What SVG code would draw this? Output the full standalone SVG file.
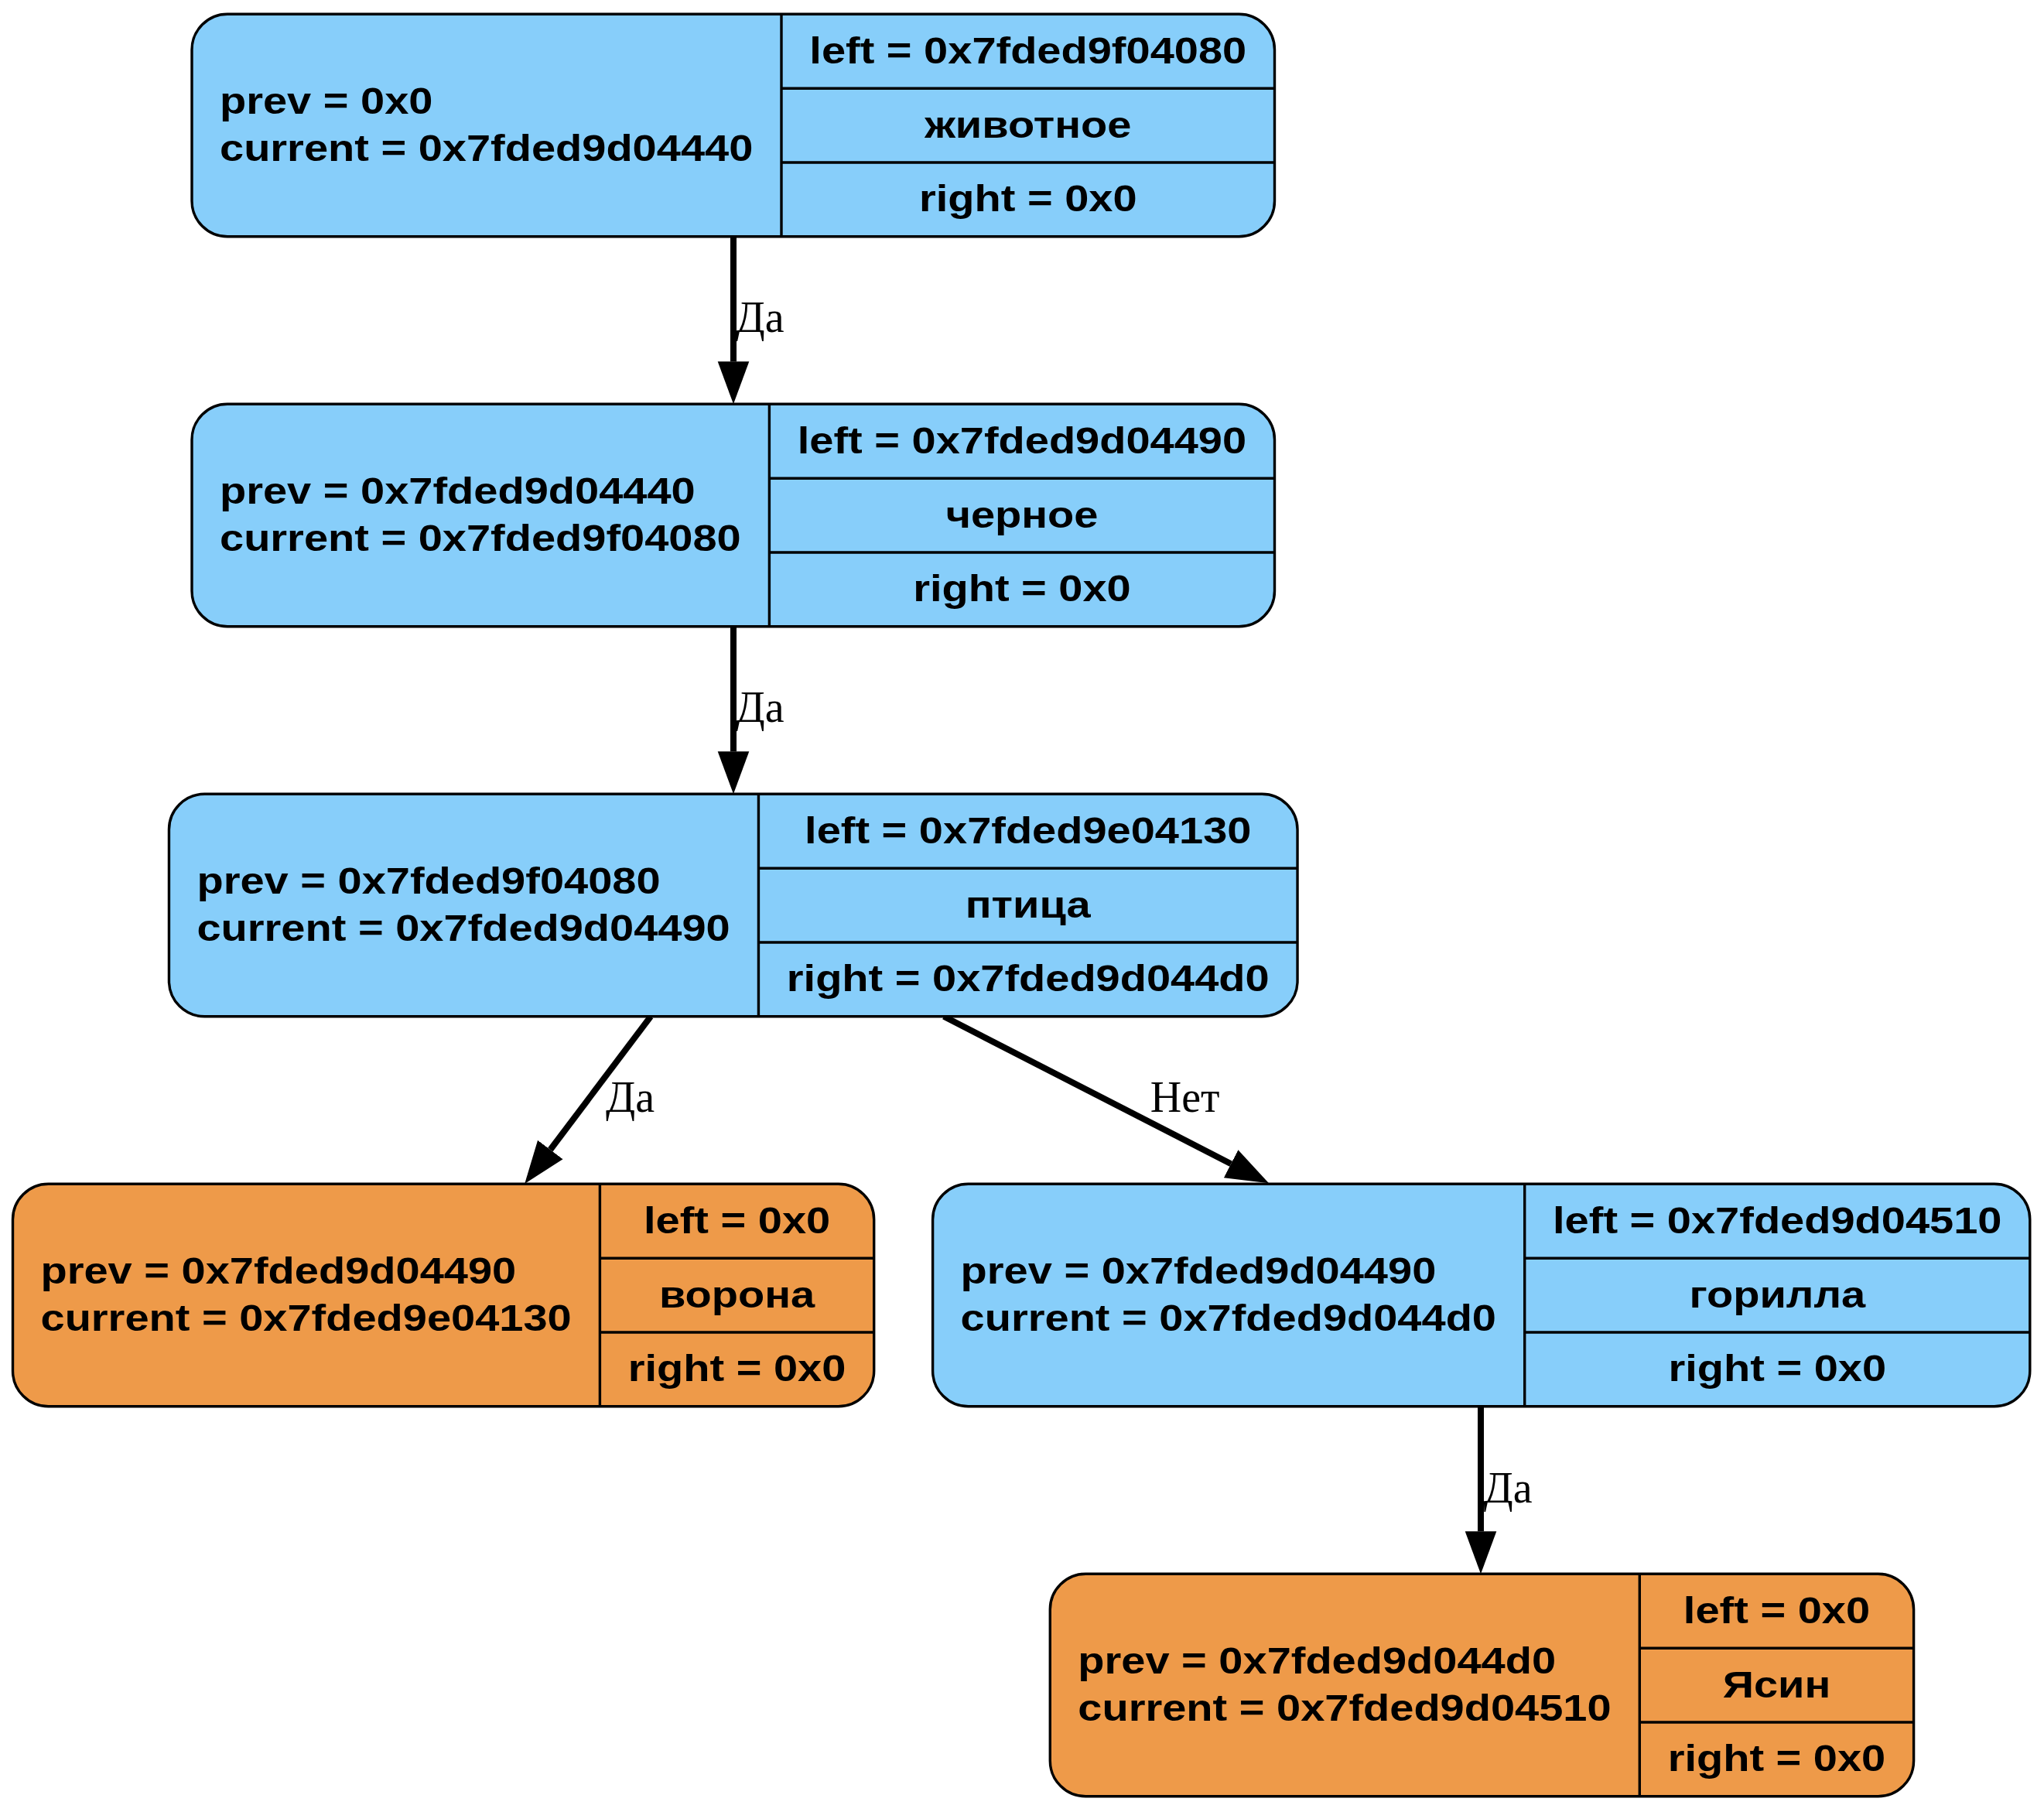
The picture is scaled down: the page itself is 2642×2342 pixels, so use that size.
<svg xmlns="http://www.w3.org/2000/svg" width="2642" height="2342" viewBox="0 0 2642 2342">
<style>
.bg{fill:#ffffff}
.box{stroke:#000;stroke-width:3.4}
.blue{fill:#87CEFA}
.orange{fill:#EE9A49}
.div{stroke:#000;stroke-width:3.4;fill:none}
.t{font-family:"Liberation Sans",Arial,Helvetica,sans-serif;font-weight:bold;font-size:48px;fill:#000}
.c{text-anchor:middle}
.edge{stroke:#000;stroke-width:8;fill:none}
.lbl{font-family:"Liberation Serif","Times New Roman",serif;font-size:56px;fill:#000;text-anchor:middle}
</style>
<defs>
<marker id="arr" markerUnits="userSpaceOnUse" viewBox="0 -21 56 42" markerWidth="56" markerHeight="42" refX="0" refY="0" orient="auto">
<path d="M0,-20.3 L55,0 L0,20.3 Z" fill="#000"/>
</marker>
</defs>
<rect class="bg" x="0" y="0" width="2642" height="2342"/>

<g id="connectors">
<path class="edge" d="M948,305.8 L948,467.3" marker-end="url(#arr)"/>
<text class="lbl" x="982" y="429.3">Да</text>
<path class="edge" d="M948,809.8 L948,971.3" marker-end="url(#arr)"/>
<text class="lbl" x="982" y="933.3">Да</text>
<path class="edge" d="M841,1313.8 L711.3,1486" marker-end="url(#arr)"/>
<text class="lbl" x="814.5" y="1437">Да</text>
<path class="edge" d="M1220,1313.8 L1591.1,1504.2" marker-end="url(#arr)"/>
<text class="lbl" x="1531.7" y="1437.3">Нет</text>
<path class="edge" d="M1914,1817.8 L1914,1979.3" marker-end="url(#arr)"/>
<text class="lbl" x="1949" y="1941.7">Да</text>
</g>

<g id="node1">
<rect class="box blue" x="248" y="18.3" width="1399.5" height="287.5" rx="46" ry="46"/>
<path class="div" d="M1010,18.3 V305.8 M1010,114.3 H1647.5 M1010,210 H1647.5"/>
<text class="t" transform="translate(284,147.3) scale(1.1667,1)">prev = 0x0</text>
<text class="t" transform="translate(284,207.6) scale(1.1667,1)">current = 0x7fded9d04440</text>
<text class="t c" transform="translate(1328.75,81.8) scale(1.1667,1)">left = 0x7fded9f04080</text>
<text class="t c" transform="translate(1328.75,177.7) scale(1.1667,1)">животное</text>
<text class="t c" transform="translate(1328.75,273.4) scale(1.1667,1)">right = 0x0</text>
</g>

<g id="node2">
<rect class="box blue" x="248" y="522.3" width="1399.5" height="287.5" rx="46" ry="46"/>
<path class="div" d="M994.4,522.3 V809.8 M994.4,618.3 H1647.5 M994.4,714 H1647.5"/>
<text class="t" transform="translate(284,651.3) scale(1.1667,1)">prev = 0x7fded9d04440</text>
<text class="t" transform="translate(284,711.6) scale(1.1667,1)">current = 0x7fded9f04080</text>
<text class="t c" transform="translate(1320.95,585.8) scale(1.1667,1)">left = 0x7fded9d04490</text>
<text class="t c" transform="translate(1320.95,681.7) scale(1.1667,1)">черное</text>
<text class="t c" transform="translate(1320.95,777.4) scale(1.1667,1)">right = 0x0</text>
</g>

<g id="node3">
<rect class="box blue" x="218.45" y="1026.3" width="1458.6" height="287.5" rx="46" ry="46"/>
<path class="div" d="M980.45,1026.3 V1313.8 M980.45,1122.3 H1677.05 M980.45,1218 H1677.05"/>
<text class="t" transform="translate(254.45,1155.3) scale(1.1667,1)">prev = 0x7fded9f04080</text>
<text class="t" transform="translate(254.45,1215.6) scale(1.1667,1)">current = 0x7fded9d04490</text>
<text class="t c" transform="translate(1328.75,1089.8) scale(1.1667,1)">left = 0x7fded9e04130</text>
<text class="t c" transform="translate(1328.75,1185.7) scale(1.1667,1)">птица</text>
<text class="t c" transform="translate(1328.75,1281.4) scale(1.1667,1)">right = 0x7fded9d044d0</text>
</g>

<g id="node4">
<rect class="box orange" x="16.5" y="1530.3" width="1113.2" height="287.5" rx="46" ry="46"/>
<path class="div" d="M775.4,1530.3 V1817.8 M775.4,1626.3 H1129.7 M775.4,1722 H1129.7"/>
<text class="t" transform="translate(52.5,1659.3) scale(1.1667,1)">prev = 0x7fded9d04490</text>
<text class="t" transform="translate(52.5,1719.6) scale(1.1667,1)">current = 0x7fded9e04130</text>
<text class="t c" transform="translate(952.55,1593.8) scale(1.1667,1)">left = 0x0</text>
<text class="t c" transform="translate(952.55,1689.7) scale(1.1667,1)">ворона</text>
<text class="t c" transform="translate(952.55,1785.4) scale(1.1667,1)">right = 0x0</text>
</g>

<g id="node5">
<rect class="box blue" x="1205.6" y="1530.3" width="1418.2" height="287.5" rx="46" ry="46"/>
<path class="div" d="M1970.7,1530.3 V1817.8 M1970.7,1626.3 H2623.8 M1970.7,1722 H2623.8"/>
<text class="t" transform="translate(1241.6,1659.3) scale(1.1667,1)">prev = 0x7fded9d04490</text>
<text class="t" transform="translate(1241.6,1719.6) scale(1.1667,1)">current = 0x7fded9d044d0</text>
<text class="t c" transform="translate(2297.25,1593.8) scale(1.1667,1)">left = 0x7fded9d04510</text>
<text class="t c" transform="translate(2297.25,1689.7) scale(1.1667,1)">горилла</text>
<text class="t c" transform="translate(2297.25,1785.4) scale(1.1667,1)">right = 0x0</text>
</g>

<g id="node6">
<rect class="box orange" x="1357.3" y="2034.3" width="1116.3" height="287.5" rx="46" ry="46"/>
<path class="div" d="M2119.3,2034.3 V2321.8 M2119.3,2130.3 H2473.6 M2119.3,2226 H2473.6"/>
<text class="t" transform="translate(1393.3,2163.3) scale(1.1667,1)">prev = 0x7fded9d044d0</text>
<text class="t" transform="translate(1393.3,2223.6) scale(1.1667,1)">current = 0x7fded9d04510</text>
<text class="t c" transform="translate(2296.45,2097.8) scale(1.1667,1)">left = 0x0</text>
<text class="t c" transform="translate(2296.45,2193.7) scale(1.1667,1)">Ясин</text>
<text class="t c" transform="translate(2296.45,2289.4) scale(1.1667,1)">right = 0x0</text>
</g>
</svg>
